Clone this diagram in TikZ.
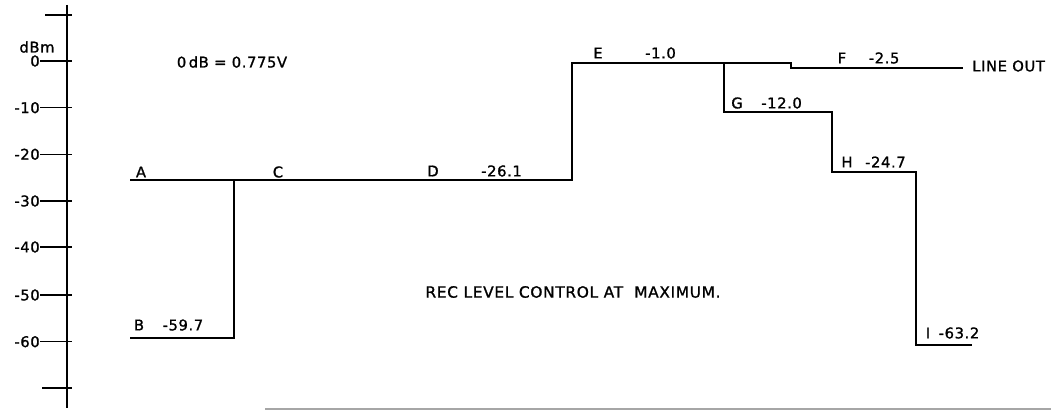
\documentclass[tikz,border=0pt]{standalone}
\usepackage{fontspec}
\setmainfont{DejaVu Sans}[LetterSpace=4, FakeBold=1.2]
\usetikzlibrary{positioning}

\begin{document}
\begin{tikzpicture}[x=0.025cm, y=-0.025cm,
  trace/.style={line width=1.4pt, line join=miter},
  lbl/.style={inner sep=0pt, font=\fontsize{10.5}{12}\selectfont}]
\useasboundingbox (0,0) rectangle (1051,411);

\coordinate (axtop) at (67,5);
\coordinate (axbot) at (67,408);
\draw[line width=1pt] (axtop) -- (axbot);
\draw[line width=1pt] (45,15) -- (72,15);
\draw[line width=1pt] (42,388) -- (72,388);
\foreach \yy/\val [count=\i] in {61/0, 107.7/-10, 154.3/-20, 201/-30, 247/-40, 295/-50, 341.7/-60} {
  \node[lbl, anchor=east] (tick\i) at (40,\yy) {\val};
  \draw[line width=1pt] (tick\i.east) -- (72,\yy);
}
\node[lbl] (unit) at (37,47) {dBm};
\node[lbl] (ref) at (232,62) {0\,dB = 0.775V};

\coordinate (a0) at (130,180);
\coordinate (j1) at (234,180);
\coordinate (d1) at (572,180);
\coordinate (e0) at (572,63);
\coordinate (j2) at (724,63);
\coordinate (e1) at (791,63);
\coordinate (f0) at (791,68);
\coordinate (f1) at (963,68);
\coordinate (b0) at (130,338);
\coordinate (b1) at (234,338);
\coordinate (g0) at (724,112);
\coordinate (g1) at (832,112);
\coordinate (h0) at (832,172);
\coordinate (h1) at (916,172);
\coordinate (i0) at (916,345);
\coordinate (i1) at (972,345);

\draw[trace] (a0) -- (j1) -- (d1) -- (e0) -- (j2) -- (e1) -- (f0) -- (f1);
\draw[trace] (b0) -- (b1) -- (j1);
\draw[trace] (j2) -- (g0) -- (g1) -- (h0) -- (h1) -- (i0) -- (i1);

\node[lbl] (A) at (141,172) {A};
\node[lbl] (C) at (278,172) {C};
\node[lbl] (D) at (433,171) {D};
\node[lbl, right=1.05cm of D] (vD) {-26.1};
\node[lbl] (B) at (139,325) {B};
\node[lbl, right=0.45cm of B] (vB) {-59.7};
\node[lbl] (E) at (598,53) {E};
\node[lbl, right=1.05cm of E] (vE) {-1.0};
\node[lbl] (F) at (842,58) {F};
\node[lbl, right=0.55cm of F] (vF) {-2.5};
\node[lbl, anchor=west] (out) at (972,66) {LINE OUT};
\node[lbl] (G) at (737,103) {G};
\node[lbl, right=0.45cm of G] (vG) {-12.0};
\node[lbl] (H) at (847,162) {H};
\node[lbl, right=0.3cm of H] (vH) {-24.7};
\node[lbl] (I) at (928,333) {I};
\node[lbl, right=0.2cm of I] (vI) {-63.2};

\node[lbl, font=\fontsize{11}{13}\selectfont] (note) at (573,292) {REC LEVEL CONTROL AT\ \ MAXIMUM.};

\draw[gray!70, line width=1pt] (265,409) -- (1051,409);
\end{tikzpicture}
\end{document}
